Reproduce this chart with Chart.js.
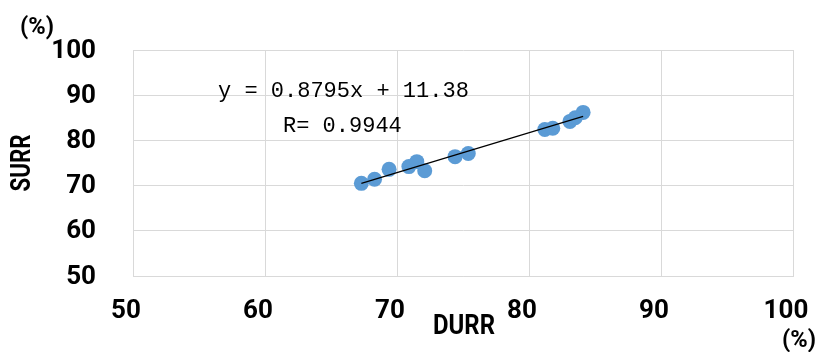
<!DOCTYPE html>
<html>
<head>
<meta charset="utf-8">
<script src="https://cdn.jsdelivr.net/npm/chart.js@4/dist/chart.umd.min.js"></script>
<style>
html,body{margin:0;padding:0;background:#fff;}
#wrap{width:819px;height:352px;}
</style>
</head>
<body>
<div id="wrap"><canvas id="c" width="819" height="352"></canvas></div>
<script>
// Data
const durr = [67.3, 68.3, 69.4, 70.9, 71.5, 72.1, 74.4, 75.4, 81.2, 81.8, 83.1, 83.5, 84.1];
const surr = [70.5, 71.4, 73.6, 74.2, 75.3, 73.3, 76.4, 77.1, 82.4, 82.7, 84.2, 85.0, 86.2];
const trendX = [67.3, 84.1];
const trendY = [70.5, 85.3];
const xTicks = [50, 60, 70, 80, 90, 100];
const yTicks = [50, 60, 70, 80, 90, 100];
const equationText = "y = 0.8795x + 11.38";
const rText = "R= 0.9944";
const xTitle = "DURR";
const yTitle = "SURR";
const unitText = "(%)";

const points = durr.map((x, i) => ({x: x, y: surr[i]}));
const trend = trendX.map((x, i) => ({x: x, y: trendY[i]}));

const labelFont = 'Roboto, "DejaVu Sans", sans-serif';

function drawFitted(ctx, text, cx, cy, font, targetW, rot) {
  ctx.save();
  ctx.font = font;
  const w = ctx.measureText(text).width;
  ctx.translate(cx, cy);
  if (rot) ctx.rotate(rot);
  ctx.scale(targetW / w, 1);
  ctx.textAlign = 'center';
  ctx.textBaseline = 'middle';
  ctx.fillText(text, 0, 0);
  ctx.restore();
}

const textPlugin = {
  id: 'texts',
  afterDraw(chart) {
    const ctx = chart.ctx;
    const xs = chart.scales.x, ys = chart.scales.y;
    ctx.save();
    ctx.fillStyle = '#000';
    // axis titles
    drawFitted(ctx, xTitle, 464, 327, 'bold 28px ' + labelFont, 62, 0);
    drawFitted(ctx, yTitle, 23, 163, 'bold 28px ' + labelFont, 57, -Math.PI / 2);
    // units
    drawFitted(ctx, unitText, 37, 28, 'bold 23px ' + labelFont, 34, 0);
    drawFitted(ctx, unitText, 799, 341, 'bold 23px ' + labelFont, 34, 0);
    // regression annotation
    ctx.font = '22px "Liberation Mono", "DejaVu Sans Mono", monospace';
    ctx.textAlign = 'left';
    ctx.textBaseline = 'middle';
    ctx.fillText(equationText, xs.getPixelForValue(50) + 85, ys.getPixelForValue(90) - 4);
    ctx.fillText(rText, xs.getPixelForValue(50) + 150, ys.getPixelForValue(80) - 14);
    ctx.restore();
  }
};

new Chart(document.getElementById('c'), {
  type: 'scatter',
  data: {
    datasets: [
      {
        label: 'trend',
        type: 'line',
        data: trend,
        borderColor: '#000',
        borderWidth: 1.2,
        pointRadius: 0,
        fill: false,
        order: 0
      },
      {
        label: 'SURR',
        data: points,
        backgroundColor: '#5B9BD5',
        borderColor: '#5B9BD5',
        pointRadius: 7.5,
        pointHoverRadius: 7.5,
        borderWidth: 0,
        order: 1
      }
    ]
  },
  options: {
    responsive: false,
    animation: false,
    devicePixelRatio: 1,
    layout: { padding: { left: 0, top: 50, right: 26, bottom: 0 } },
    plugins: { legend: { display: false }, tooltip: { enabled: false } },
    scales: {
      x: {
        type: 'linear',
        min: 50, max: 100,
        afterBuildTicks(scale) { scale.ticks = xTicks.map(v => ({value: v})); },
        afterFit(scale) { scale.height = 76; scale.paddingLeft = 0; scale.paddingRight = 0; },
        grid: { color: '#d9d9d9', lineWidth: 1, drawTicks: false },
        border: { color: '#d9d9d9' },
        ticks: { padding: 20, labelOffset: -7, color: '#000', font: { family: labelFont, size: 26, weight: 'bold' }, maxRotation: 0, autoSkip: false }
      },
      y: {
        type: 'linear',
        min: 50, max: 100,
        afterBuildTicks(scale) { scale.ticks = yTicks.map(v => ({value: v})); },
        afterFit(scale) { scale.width = 133; scale.paddingTop = 0; scale.paddingBottom = 0; },
        grid: { color: '#d9d9d9', lineWidth: 1, drawTicks: false },
        border: { color: '#d9d9d9' },
        ticks: { padding: 37, labelOffset: 1, color: '#000', font: { family: labelFont, size: 26, weight: 'bold' }, autoSkip: false }
      }
    }
  },
  plugins: [textPlugin]
});
</script>
</body>
</html>
